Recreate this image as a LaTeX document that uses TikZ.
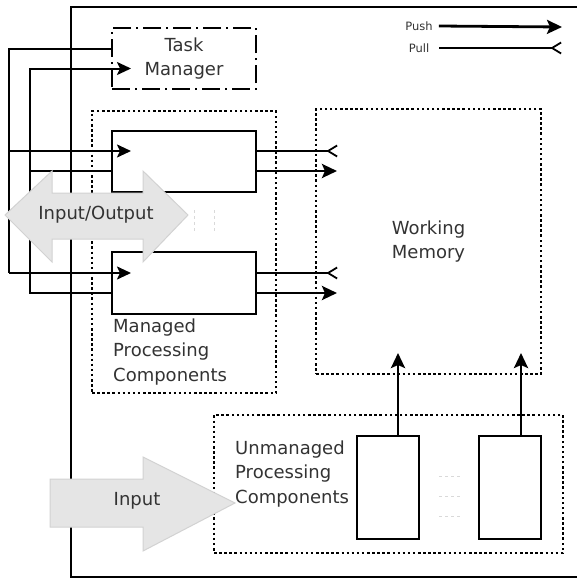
\documentclass[tikz,border=0pt]{standalone}
\usepackage{fontspec}
\setmainfont{DejaVu Sans}
\usepackage{tikz}
\usetikzlibrary{arrows.meta}

\begin{document}
\begin{tikzpicture}[x=1pt,y=-1pt,
    every node/.style={font=\fontsize{18}{24.5}\selectfont, text=black!80},
    box/.style={draw, line width=2pt, minimum width=144pt, inner sep=0pt},
    group/.style={draw, line width=1.8pt, dash pattern=on 2.5pt off 2.6pt, inner sep=0pt},
    wire/.style={line width=2pt},
    ctrl/.style={line width=2pt, -{Stealth[length=14pt,width=13pt,inset=3pt]}},
    push/.style={line width=2.8pt, -{Stealth[length=15pt,width=14pt,inset=3pt]}},
    pull/.style={line width=2pt, -{Straight Barb[reversed,length=9pt,width=11pt,line width=1.8pt]}},
    key/.style={font=\fontsize{11.5}{14}\selectfont, inner sep=0pt},
    bigarrow/.style={fill=gray!20, draw=gray!35, line width=1pt},
    etc/.style={gray!30, line width=1pt, dash pattern=on 3pt off 3pt}]

        \useasboundingbox (0,0) rectangle (577,579);
        \clip (0,0) rectangle (577,579);

        % Outer frame
        \draw[wire] (71,7) rectangle (600,577);

        % Legend
        \node[key] (pushkey) at (419,26) {Push};
        \node[key] (pullkey) at (419,48) {Pull};
        \draw[push] ([xshift=6pt]pushkey.east) -- (562,27);
        \draw[pull] ([xshift=10pt]pullkey.east) -- (562,48);

        % Task manager
        \node[box, minimum height=61pt, dash pattern=on 18pt off 5pt on 2pt off 5pt, align=center]
          (taskmgr) at (184,58.5) {Task\\Manager};

        % Managed processing components
        \node[group, minimum width=184pt, minimum height=282pt] (mgroup) at (184,252) {};
        \node[box, minimum height=61pt] (mpc1) at (184,161) {};
        \node[box, minimum height=62pt] (mpc2) at (184,283) {};
        \node[anchor=west, align=left, inner sep=0pt] (mlabel) at (113,352)
          {Managed\\Processing\\Components};
        \draw[etc] (194,210) -- (194,232);
        \draw[etc] (214,210) -- (214,232);

        % Working memory
        \node[group, minimum width=225pt, minimum height=265pt, align=center]
          (wm) at (428.5,241.5) {Working\\Memory};

        % Unmanaged processing components
        \node[group, minimum width=349pt, minimum height=138pt] (ugroup) at (388.5,484) {};
        \node[box, minimum width=62pt, minimum height=103pt] (upc1) at (388,487.5) {};
        \node[box, minimum width=62pt, minimum height=103pt] (upc2) at (510,487.5) {};
        \node[anchor=west, align=left, inner sep=0pt] (ulabel) at (235,474)
          {Unmanaged\\Processing\\Components};
        \foreach \y in {476,496,516}
          \draw[etc] (439,\y) -- (461,\y);

        % Control lines from the left
        \draw[wire] ([yshift=10pt]taskmgr.west) -| ([xshift=-102pt,yshift=10pt]mpc2.west);
        \draw[ctrl] ([xshift=-102pt,yshift=10pt]mpc1.west) -- ([xshift=20pt,yshift=10pt]mpc1.west);
        \draw[ctrl] ([xshift=-102pt,yshift=10pt]mpc2.west) -- ([xshift=20pt,yshift=10pt]mpc2.west);
        \draw[ctrl] ([yshift=-10pt]mpc2.west) -| ([xshift=-81pt,yshift=-10pt]taskmgr.west)
          -- ([xshift=20pt,yshift=-10pt]taskmgr.west);
        \draw[wire] ([xshift=-81pt,yshift=-10pt]mpc1.west) -- ([yshift=-10pt]mpc1.west);

        % Pull and push into working memory
        \draw[pull] ([yshift=10pt]mpc1.east) -- ++(81,0);
        \draw[push] ([yshift=-10pt]mpc1.east) -- ++(80,0);
        \draw[pull] ([yshift=10pt]mpc2.east) -- ++(81,0);
        \draw[push] ([yshift=-10pt]mpc2.east) -- ++(80,0);
        \draw[push] ([xshift=10pt]upc1.north) -- ++(0,-82);
        \draw[push] ([xshift=11pt]upc2.north) -- ++(0,-82);

        % Input/Output arrow
        \filldraw[bigarrow] (5,215) -- (52,171) -- (52,193) -- (143,193) -- (143,171) -- (188,215)
          -- (143,262) -- (143,239) -- (52,239) -- (52,262) -- cycle;
        \node (io) at (96,215) {Input/Output};

        % Input arrow
        \filldraw[bigarrow] (50,479) -- (143,479) -- (143,457) -- (235,503) -- (143,551)
          -- (143,527) -- (50,527) -- cycle;
        \node (input) at (137,501) {Input};

\end{tikzpicture}
\end{document}
